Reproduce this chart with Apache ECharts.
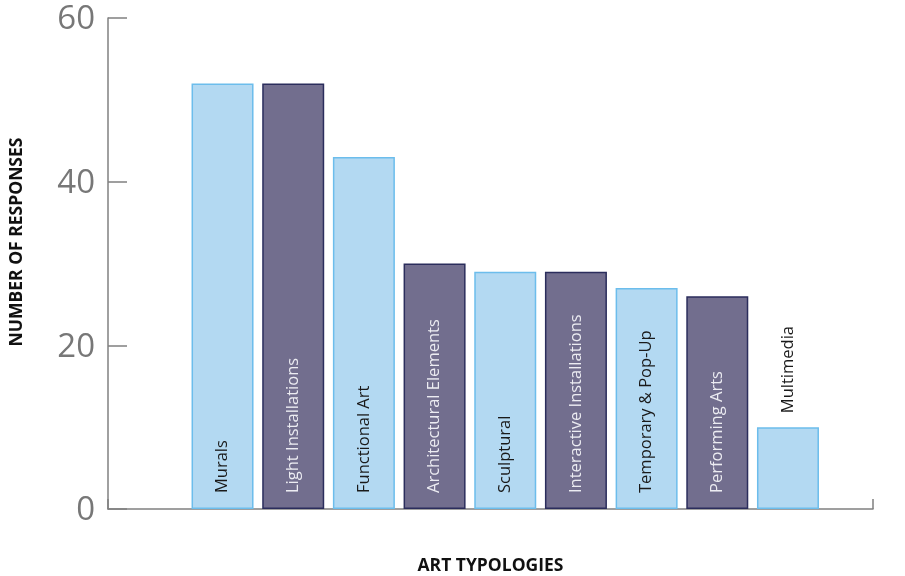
<!DOCTYPE html>
<html>
<head>
<meta charset="utf-8">
<script src="https://cdn.jsdelivr.net/npm/echarts@6/dist/echarts.min.js"></script>
<style>html,body{margin:0;padding:0;background:#fff}#c{width:905px;height:576px}</style>
</head>
<body>
<div id="c"></div>
<script>
const categories = ['Murals','Light Installations','Functional Art','Architectural Elements','Sculptural','Interactive Installations','Temporary & Pop-Up','Performing Arts','Multimedia'];
const values = [52, 52, 43, 30, 29, 29, 27, 26, 10];
const yTicks = [0, 20, 40, 60];
const yTitle = 'NUMBER OF RESPONSES';
const xTitle = 'ART TYPOLOGIES';

const light = {fill:'#b3d9f2', border:'#6cbdec', text:'#1a1a1a'};
const dark = {fill:'#726e8e', border:'#2b2d5c', text:'#ececf2'};
const FONT = '"Open Sans", "Noto Sans", sans-serif';

const data = values.map((v, i) => {
  const c = i % 2 === 0 ? light : dark;
  const small = v < 15;
  return {
    value: v,
    itemStyle: {color: c.fill, borderColor: c.border, borderWidth: 1.5},
    label: {
      show: true,
      position: small ? 'top' : 'insideBottom',
      distance: small ? 14 : 16,
      rotate: 90,
      align: 'left',
      verticalAlign: 'middle',
      color: small ? '#1a1a1a' : c.text,
      fontSize: 16.5,
      fontFamily: FONT,
      formatter: categories[i]
    }
  };
});

const chart = echarts.init(document.getElementById('c'));
chart.setOption({
  animation: false,
  grid: [
    {left: 108, right: 32, top: 18, bottom: 67},
    {left: 187.2, right: 81.7, top: 18, bottom: 67}
  ],
  xAxis: [
    {type: 'value', gridIndex: 0, min: 0, max: 1, interval: 1,
      axisLine: {show: true, lineStyle: {color: '#808080', width: 1.5}},
      axisTick: {show: true, inside: true, length: 10, lineStyle: {color: '#808080', width: 1.5}},
      axisLabel: {show: false}, splitLine: {show: false}},
    {type: 'category', gridIndex: 1, data: categories,
      axisLine: {show: false}, axisTick: {show: false}, axisLabel: {show: false}}
  ],
  yAxis: [
    {type: 'value', gridIndex: 0, min: yTicks[0], max: yTicks[yTicks.length-1], interval: 20,
      axisLine: {show: true, lineStyle: {color: '#808080', width: 1.5}},
      axisTick: {show: true, inside: true, length: 19, lineStyle: {color: '#808080', width: 1.5}},
      axisLabel: {color: '#777', fontSize: 33, fontFamily: FONT, margin: 13,
        formatter: v => '{a|' + v + '}', rich: {a: {color: '#777', fontSize: 33, fontFamily: FONT, padding: [4, 0, 0, 0]}}},
      splitLine: {show: false}},
    {type: 'value', gridIndex: 1, min: yTicks[0], max: yTicks[yTicks.length-1], interval: 20, show: false}
  ],
  series: [{
    type: 'bar', xAxisIndex: 1, yAxisIndex: 1,
    data: data, barWidth: 62
  }],
  graphic: [
    {type: 'text', x: 17, y: 242, rotation: Math.PI/2,
      style: {text: yTitle, fill: '#111', font: 'bold 17.5px ' + FONT, align: 'center', verticalAlign: 'middle'}},
    {type: 'text', x: 490.5, y: 566,
      style: {text: xTitle, fill: '#111', font: 'bold 17.5px ' + FONT, align: 'center', verticalAlign: 'middle'}}
  ]
});
</script>
</body>
</html>
